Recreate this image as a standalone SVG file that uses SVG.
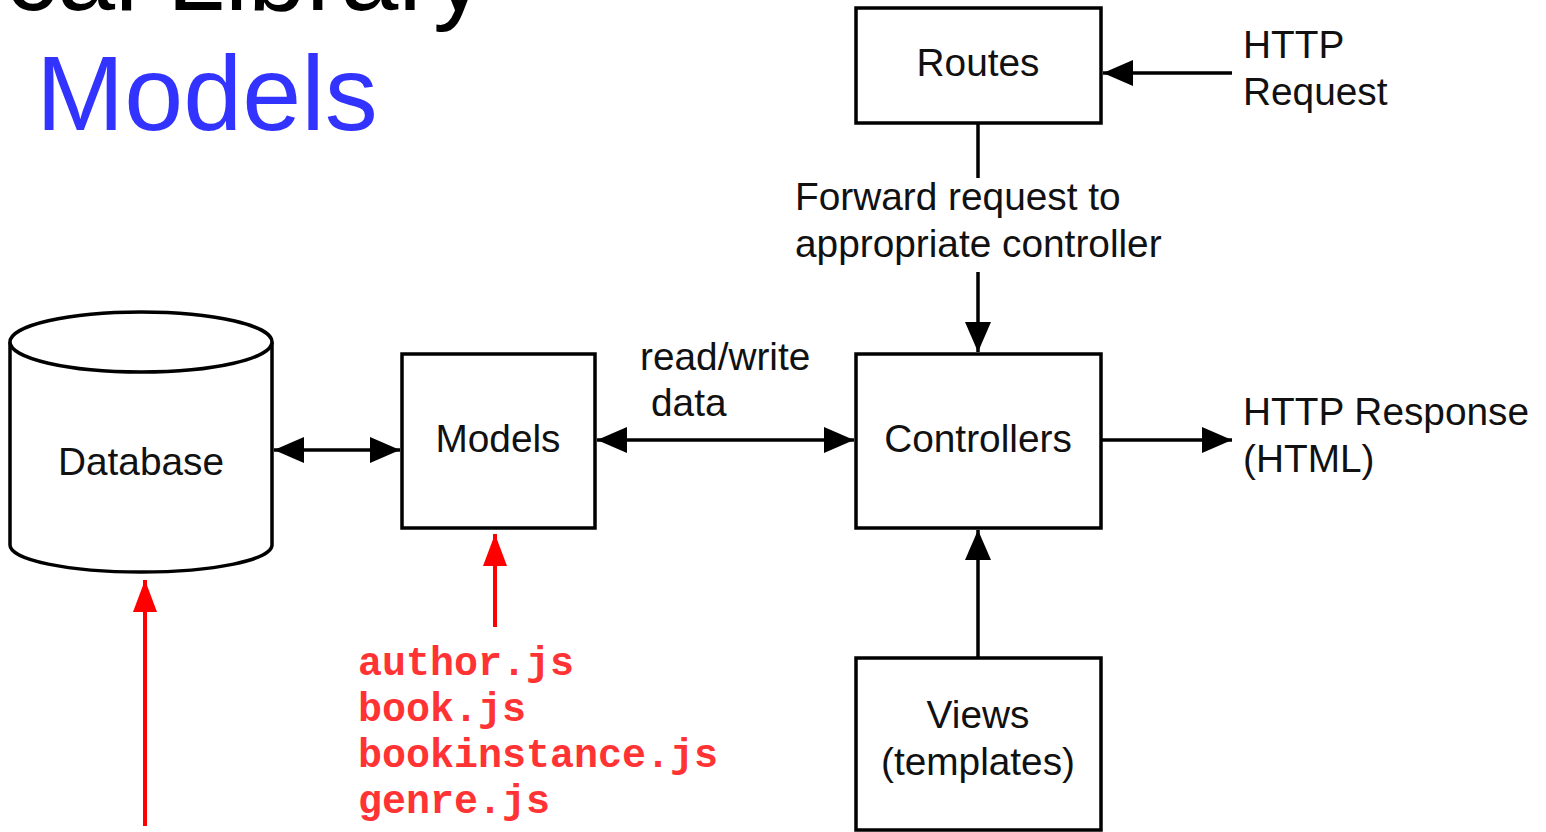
<svg xmlns="http://www.w3.org/2000/svg" width="1546" height="832" viewBox="0 0 1546 832">
<style>
.box{fill:#fff;stroke:#000;stroke-width:3.5}
.lbl{font-family:"Liberation Sans",Arial,sans-serif;font-size:38.8px;fill:#111}
.ctr{text-anchor:middle}
.ln{stroke:#000;stroke-width:3.5;fill:none}
.red{stroke:#ff0000;stroke-width:4;fill:none}
.code{font-family:"Liberation Mono","Courier New",monospace;font-weight:bold;font-size:40px;fill:#ff3333}
</style>
<defs>
<marker id="ah" markerUnits="userSpaceOnUse" markerWidth="30" markerHeight="26" refX="30" refY="13" orient="auto-start-reverse">
<path d="M0,0 L30,13 L0,26 z" fill="#000"/>
</marker>
<marker id="rh" markerUnits="userSpaceOnUse" markerWidth="32" markerHeight="24" refX="32" refY="12" orient="auto-start-reverse">
<path d="M0,0 L32,12 L0,24 z" fill="#ff0000"/>
</marker>
</defs>
<g id="title">
<text x="485" y="10" text-anchor="end" font-family="Liberation Sans,Arial,sans-serif" font-size="104" fill="#000">Local Library</text>
<text x="36" y="130" font-family="Liberation Sans,Arial,sans-serif" font-size="106" fill="#3333ff">Models</text>
</g>
<g id="connectors">
<line class="ln" x1="274" y1="450" x2="400" y2="450" marker-start="url(#ah)" marker-end="url(#ah)"/>
<line class="ln" x1="597" y1="440" x2="854" y2="440" marker-start="url(#ah)" marker-end="url(#ah)"/>
<line class="ln" x1="1232" y1="73" x2="1103" y2="73" marker-end="url(#ah)"/>
<line class="ln" x1="978" y1="123" x2="978" y2="178"/>
<line class="ln" x1="978" y1="272" x2="978" y2="352" marker-end="url(#ah)"/>
<line class="ln" x1="1101" y1="440" x2="1232" y2="440" marker-end="url(#ah)"/>
<line class="ln" x1="978" y1="658" x2="978" y2="530" marker-end="url(#ah)"/>
<line class="red" x1="495" y1="627" x2="495" y2="534" marker-end="url(#rh)"/>
<line class="red" x1="145" y1="826" x2="145" y2="580" marker-end="url(#rh)"/>
<text class="lbl" x="795" y="210">Forward request to</text>
<text class="lbl" x="795" y="257">appropriate controller</text>
<text class="lbl" x="640" y="370">read/write</text>
<text class="lbl" x="651" y="416">data</text>
<text class="lbl" x="1243" y="58">HTTP</text>
<text class="lbl" x="1243" y="105">Request</text>
<text class="lbl" x="1243" y="425">HTTP Response</text>
<text class="lbl" x="1243" y="472">(HTML)</text>
</g>
<g id="database">
<path class="box" d="M10,342 L10,545 A131,27 0 0 0 272,545 L272,342"/>
<ellipse class="box" cx="141" cy="342" rx="131" ry="30"/>
<text class="lbl ctr" x="141" y="475">Database</text>
</g>
<g id="models">
<rect class="box" x="402" y="354" width="193" height="174"/>
<text class="lbl ctr" x="498" y="452">Models</text>
</g>
<g id="controllers">
<rect class="box" x="856" y="354" width="245" height="174"/>
<text class="lbl ctr" x="978" y="452">Controllers</text>
</g>
<g id="routes">
<rect class="box" x="856" y="8" width="245" height="115"/>
<text class="lbl ctr" x="978" y="76">Routes</text>
</g>
<g id="views">
<rect class="box" x="856" y="658" width="245" height="172"/>
<text class="lbl ctr" x="978" y="728">Views</text>
<text class="lbl ctr" x="978" y="775">(templates)</text>
</g>
<g id="files">
<text class="code" x="358" y="675">author.js</text>
<text class="code" x="358" y="721">book.js</text>
<text class="code" x="358" y="767">bookinstance.js</text>
<text class="code" x="358" y="813">genre.js</text>
</g>
</svg>
